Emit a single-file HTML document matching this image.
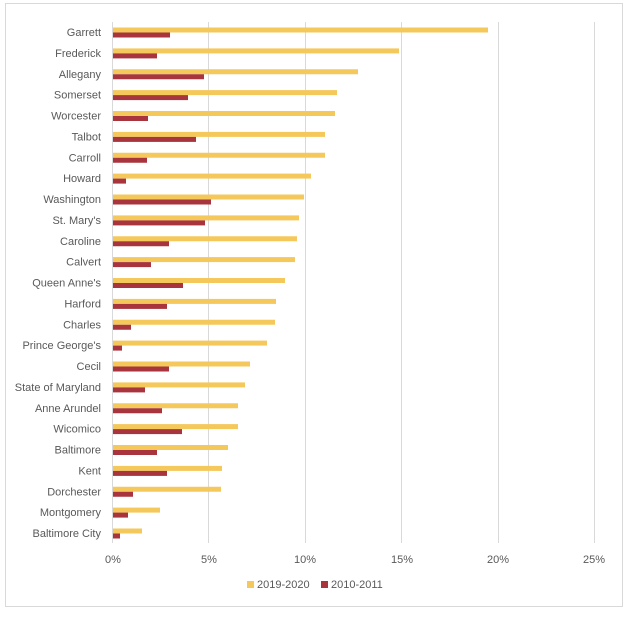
<!DOCTYPE html>
<html><head><meta charset="utf-8"><style>
body{margin:0;background:#fff}
svg text{font-family:"Liberation Sans",sans-serif;font-size:11px;fill:#595959}
</style></head><body>
<svg width="628" height="613" xmlns="http://www.w3.org/2000/svg">
<rect x="5.5" y="3.5" width="617" height="603" fill="#fff" stroke="#d9d9d9"/>
<g stroke="#d9d9d9" stroke-width="1">
<line x1="112.5" y1="22" x2="112.5" y2="543"/>
<line x1="208.5" y1="22" x2="208.5" y2="543"/>
<line x1="305.5" y1="22" x2="305.5" y2="543"/>
<line x1="401.5" y1="22" x2="401.5" y2="543"/>
<line x1="498.5" y1="22" x2="498.5" y2="543"/>
<line x1="594.5" y1="22" x2="594.5" y2="543"/>
</g>
<g fill="#F5C85C">
<rect x="113" y="27.5" width="375" height="5"/>
<rect x="113" y="48.4" width="286" height="5"/>
<rect x="113" y="69.25" width="245" height="5"/>
<rect x="113" y="90.1" width="224" height="5"/>
<rect x="113" y="111" width="222" height="5"/>
<rect x="113" y="131.9" width="212" height="5"/>
<rect x="113" y="152.75" width="212" height="5"/>
<rect x="113" y="173.6" width="198" height="5"/>
<rect x="113" y="194.5" width="191" height="5"/>
<rect x="113" y="215.4" width="186" height="5"/>
<rect x="113" y="236.25" width="184" height="5"/>
<rect x="113" y="257.1" width="182" height="5"/>
<rect x="113" y="278" width="172" height="5"/>
<rect x="113" y="298.9" width="163" height="5"/>
<rect x="113" y="319.75" width="162" height="5"/>
<rect x="113" y="340.6" width="154" height="5"/>
<rect x="113" y="361.5" width="137" height="5"/>
<rect x="113" y="382.4" width="132" height="5"/>
<rect x="113" y="403.25" width="125" height="5"/>
<rect x="113" y="424.1" width="125" height="5"/>
<rect x="113" y="445" width="115" height="5"/>
<rect x="113" y="465.9" width="109" height="5"/>
<rect x="113" y="486.75" width="108" height="5"/>
<rect x="113" y="507.6" width="47" height="5"/>
<rect x="113" y="528.5" width="29" height="5"/>
</g>
<g fill="#A8343E">
<rect x="113" y="32.5" width="57" height="5"/>
<rect x="113" y="53.4" width="44" height="5"/>
<rect x="113" y="74.25" width="91" height="5"/>
<rect x="113" y="95.1" width="75" height="5"/>
<rect x="113" y="116" width="35" height="5"/>
<rect x="113" y="136.9" width="83" height="5"/>
<rect x="113" y="157.75" width="34" height="5"/>
<rect x="113" y="178.6" width="13" height="5"/>
<rect x="113" y="199.5" width="98" height="5"/>
<rect x="113" y="220.4" width="92" height="5"/>
<rect x="113" y="241.25" width="56" height="5"/>
<rect x="113" y="262.1" width="38" height="5"/>
<rect x="113" y="283" width="70" height="5"/>
<rect x="113" y="303.9" width="54" height="5"/>
<rect x="113" y="324.75" width="18" height="5"/>
<rect x="113" y="345.6" width="9" height="5"/>
<rect x="113" y="366.5" width="56" height="5"/>
<rect x="113" y="387.4" width="32" height="5"/>
<rect x="113" y="408.25" width="49" height="5"/>
<rect x="113" y="429.1" width="69" height="5"/>
<rect x="113" y="450" width="44" height="5"/>
<rect x="113" y="470.9" width="54" height="5"/>
<rect x="113" y="491.75" width="20" height="5"/>
<rect x="113" y="512.6" width="15" height="5"/>
<rect x="113" y="533.5" width="7" height="5"/>
</g>
<g text-anchor="end">
<text x="101" y="36">Garrett</text>
<text x="101" y="56.9">Frederick</text>
<text x="101" y="77.75">Allegany</text>
<text x="101" y="98.6">Somerset</text>
<text x="101" y="119.5">Worcester</text>
<text x="101" y="140.4">Talbot</text>
<text x="101" y="161.25">Carroll</text>
<text x="101" y="182.1">Howard</text>
<text x="101" y="203">Washington</text>
<text x="101" y="223.9">St. Mary's</text>
<text x="101" y="244.75">Caroline</text>
<text x="101" y="265.6">Calvert</text>
<text x="101" y="286.5">Queen Anne's</text>
<text x="101" y="307.4">Harford</text>
<text x="101" y="328.25">Charles</text>
<text x="101" y="349.1">Prince George's</text>
<text x="101" y="370">Cecil</text>
<text x="101" y="390.9">State of Maryland</text>
<text x="101" y="411.75">Anne Arundel</text>
<text x="101" y="432.6">Wicomico</text>
<text x="101" y="453.5">Baltimore</text>
<text x="101" y="474.4">Kent</text>
<text x="101" y="495.25">Dorchester</text>
<text x="101" y="516.1">Montgomery</text>
<text x="101" y="537">Baltimore City</text>
</g>
<g text-anchor="middle">
<text x="113" y="563">0%</text><text x="209" y="563">5%</text><text x="305" y="563">10%</text>
<text x="402" y="563">15%</text><text x="498" y="563">20%</text><text x="594" y="563">25%</text>
</g>
<rect x="247" y="581" width="7" height="7" fill="#F5C85C"/>
<text x="257" y="588">2019-2020</text>
<rect x="321" y="581" width="7" height="7" fill="#A8343E"/>
<text x="331" y="588">2010-2011</text>
</svg>
</body></html>
